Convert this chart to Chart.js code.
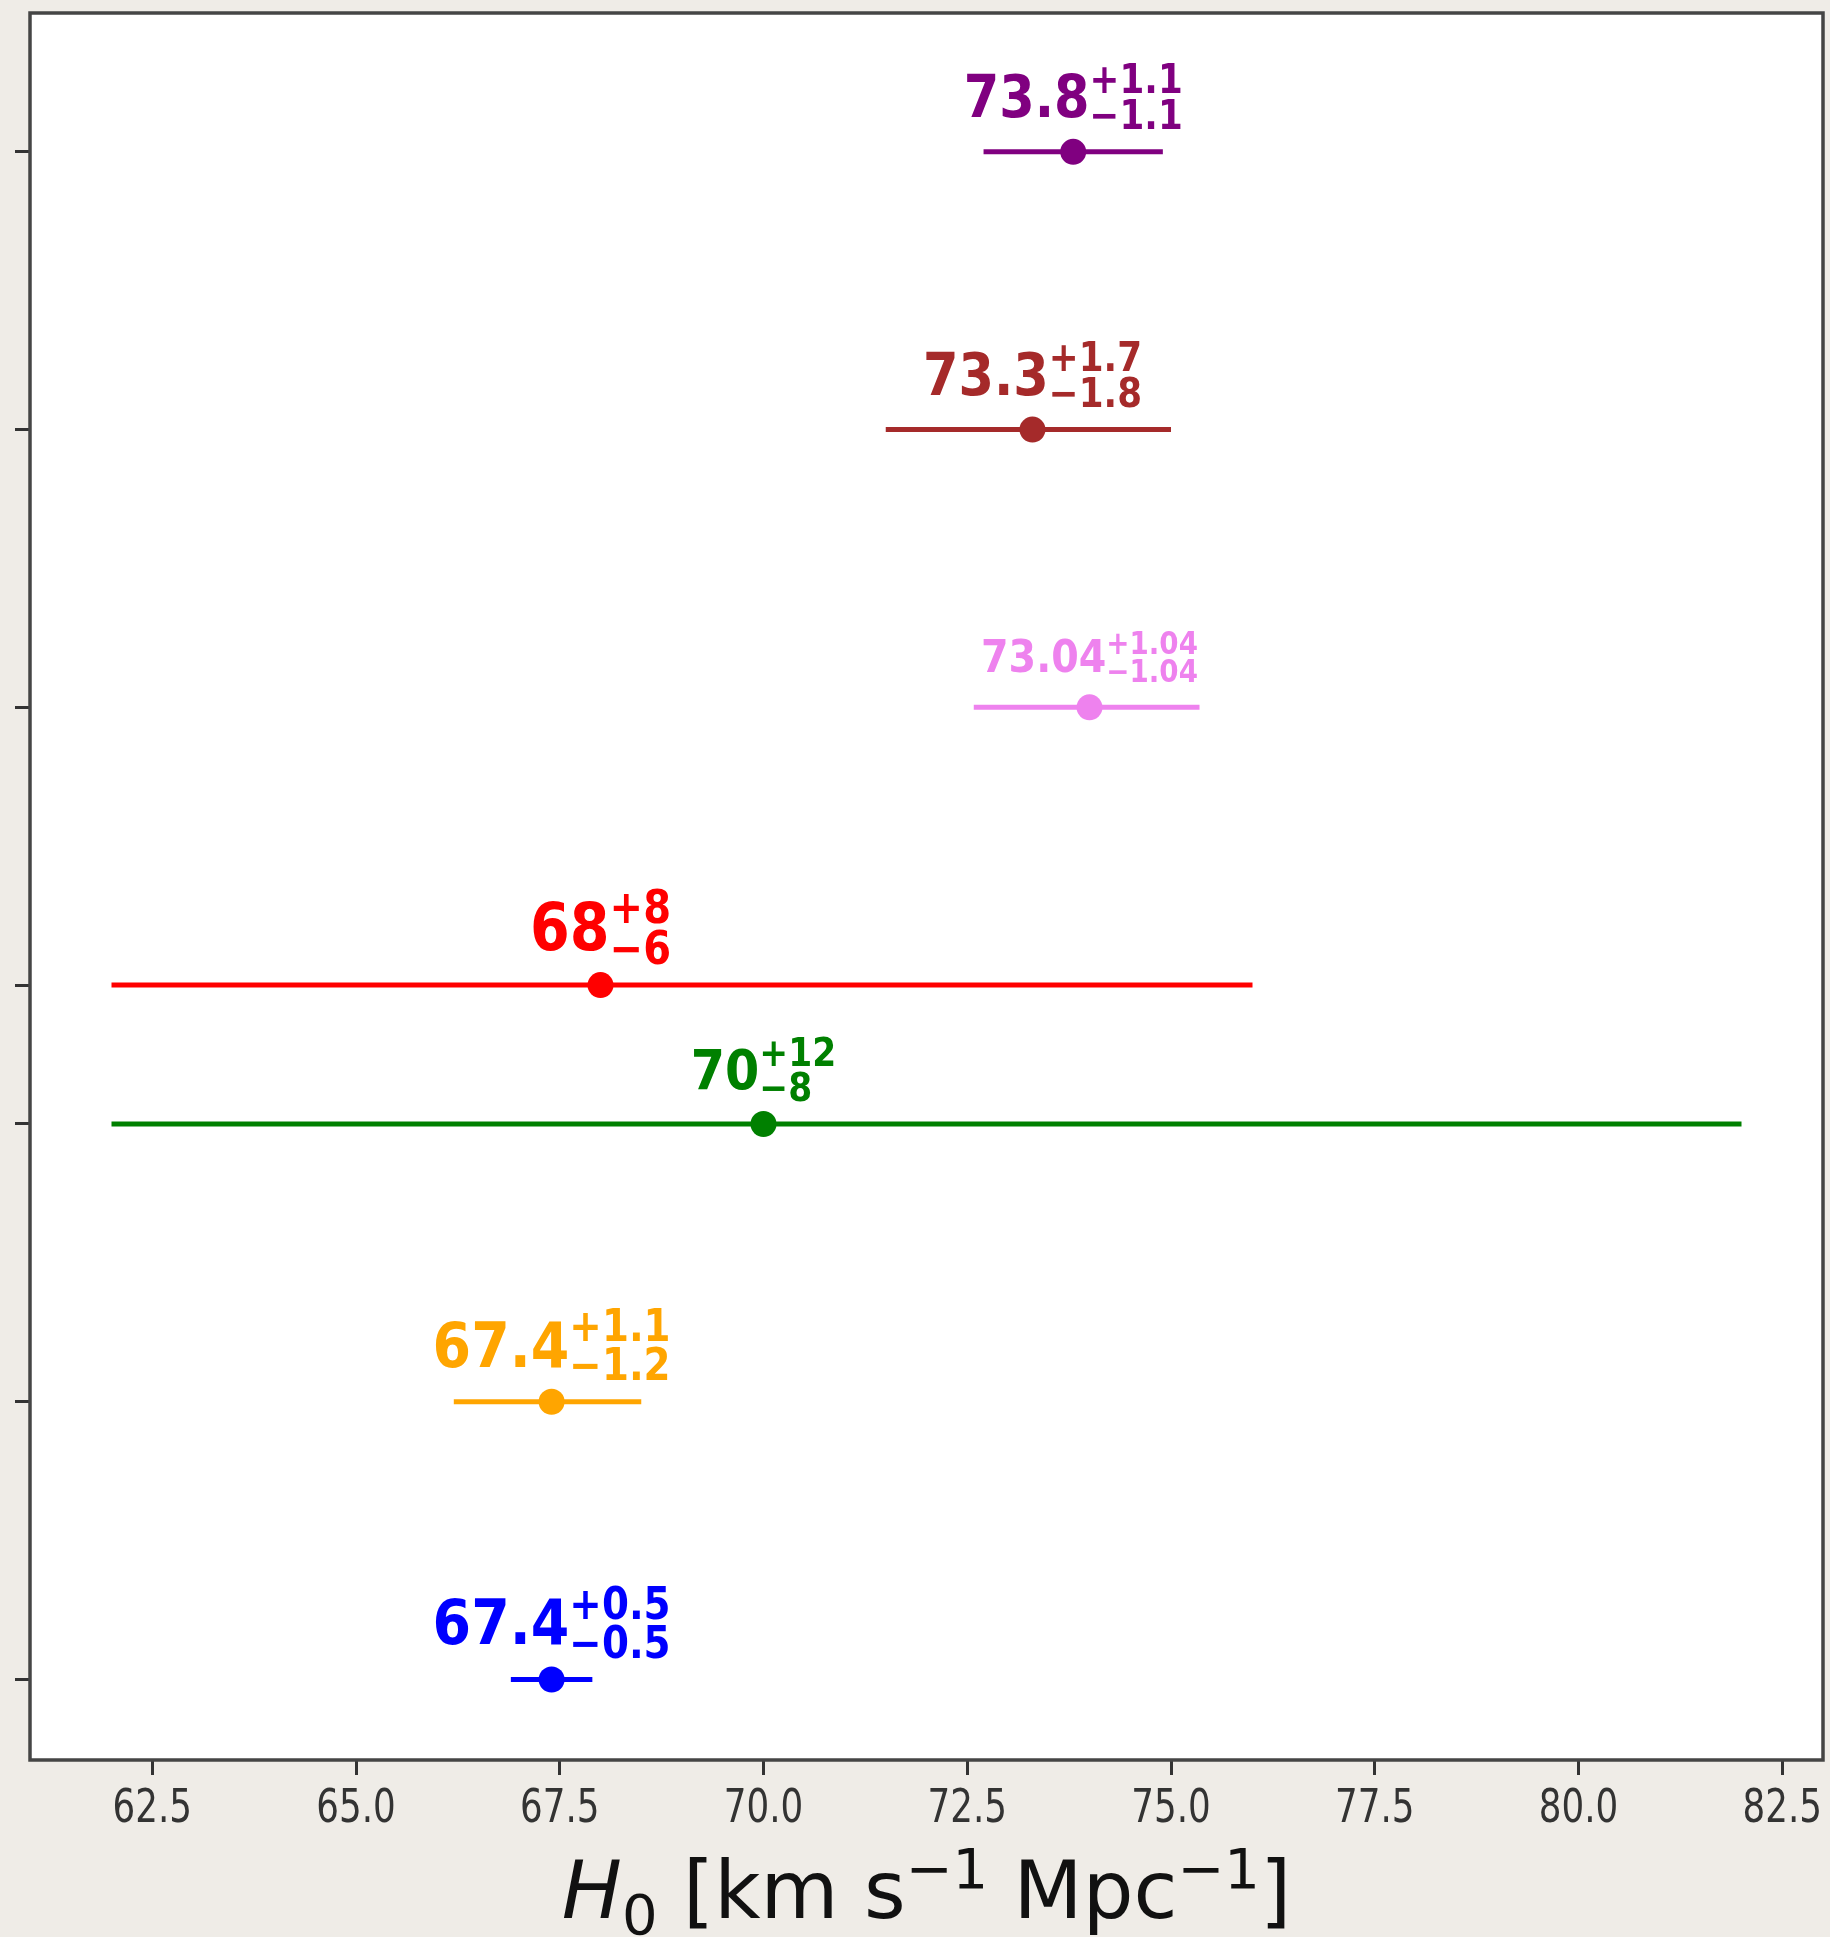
<!DOCTYPE html>
<html><head><meta charset="utf-8">
<script src="https://cdn.jsdelivr.net/npm/chart.js@4.4.1/dist/chart.umd.min.js"></script>
<style>
html,body{margin:0;padding:0;background:#efece7;overflow:hidden;}
#wrap{width:1830px;height:1937px;position:relative;}
</style>
</head><body>
<div id="wrap"><canvas id="c"></canvas></div>
<script>
// ---- data ----
const h0Values     = [67.4, 67.4, 70.0, 68.0, 74.0, 73.3, 73.8];
const errMinus     = [0.5, 1.2, 8, 6, 1.42, 1.8, 1.1];
const errPlus      = [0.5, 1.1, 12, 8, 1.35, 1.7, 1.1];
const rowPositions = [0, 1, 2, 2.5, 3.5, 4.5, 5.5];
const labelMain    = ['67.4', '67.4', '70', '68', '73.04', '73.3', '73.8'];
const labelSup     = ['+0.5', '+1.1', '+12', '+8', '+1.04', '+1.7', '+1.1'];
const labelSub     = ['\u22120.5', '\u22121.2', '\u22128', '\u22126', '\u22121.04', '\u22121.8', '\u22121.1'];
const xTickValues  = [62.5, 65, 67.5, 70, 72.5, 75, 77.5, 80, 82.5];
const xTickLabels  = ['62.5', '65.0', '67.5', '70.0', '72.5', '75.0', '77.5', '80.0', '82.5'];

// ---- styles ----
const seriesColors = ['#0000ff', '#ffa500', '#008000', '#ff0000', '#ee82ee', '#a52a2a', '#800080'];
const labelFontPx  = [63, 63, 56, 65, 45, 58, 58];

const datasets = [];
datasets.push({
  type: 'scatter',
  order: 0,
  data: h0Values.map((v, i) => ({x: v, y: rowPositions[i]})),
  pointRadius: 13,
  pointHoverRadius: 13,
  pointBackgroundColor: seriesColors,
  pointBorderWidth: 0,
  borderWidth: 0
});
h0Values.forEach((v, i) => {
  datasets.push({
    type: 'line',
    order: 1,
    data: [{x: v - errMinus[i], y: rowPositions[i]}, {x: v + errPlus[i], y: rowPositions[i]}],
    borderColor: seriesColors[i],
    borderWidth: 5,
    borderCapStyle: 'butt',
    pointRadius: 0,
    pointHoverRadius: 0,
    fill: false
  });
});

const decor = {
  id: 'decor',
  beforeDraw(chart) {
    const {ctx, chartArea: a} = chart;
    ctx.save();
    ctx.fillStyle = '#ffffff';
    ctx.fillRect(a.left, a.top, a.right - a.left, a.bottom - a.top);
    ctx.restore();
  },
  afterDraw(chart) {
    const {ctx, chartArea: a, scales: {x, y}} = chart;
    // frame
    ctx.save();
    ctx.strokeStyle = '#454545';
    ctx.lineWidth = 3.5;
    ctx.strokeRect(a.left, a.top, a.right - a.left, a.bottom - a.top);
    ctx.restore();

    // x tick labels (condensed)
    ctx.save();
    ctx.fillStyle = '#333333';
    ctx.font = '47px "DejaVu Sans"';
    ctx.textAlign = 'center';
    ctx.textBaseline = 'alphabetic';
    x.ticks.forEach(t => {
      const px = x.getPixelForValue(t.value);
      ctx.save();
      ctx.translate(px, a.bottom + 62);
      ctx.scale(0.76, 1);
      ctx.fillText(t.label, 0, 0);
      ctx.restore();
    });
    ctx.restore();

    // value annotations
    const cx = 0.88;
    h0Values.forEach((v, i) => {
      const px = x.getPixelForValue(v);
      const py = y.getPixelForValue(rowPositions[i]);
      const f = labelFontPx[i];
      const fs = f * 0.7;
      ctx.save();
      ctx.fillStyle = seriesColors[i];
      ctx.textAlign = 'left';
      ctx.textBaseline = 'alphabetic';
      ctx.font = 'bold ' + f + 'px "DejaVu Sans"';
      const wMain = ctx.measureText(labelMain[i]).width;
      ctx.font = 'bold ' + fs + 'px "DejaVu Sans"';
      const wSup = ctx.measureText(labelSup[i]).width;
      const wSub = ctx.measureText(labelSub[i]).width;
      const total = (wMain + Math.max(wSup, wSub));
      const by = py - 35;
      ctx.translate(px, by);
      ctx.scale(cx, 1);
      const sx = -total / 2;
      ctx.font = 'bold ' + f + 'px "DejaVu Sans"';
      ctx.fillText(labelMain[i], sx, 0);
      ctx.font = 'bold ' + fs + 'px "DejaVu Sans"';
      ctx.fillText(labelSup[i], sx + wMain, -0.41 * f);
      ctx.fillText(labelSub[i], sx + wMain, 0.21 * f);
      ctx.restore();
    });

    // axis title: H_0 [km s^-1 Mpc^-1]
    const pieces = [
      {t: 'H', f: 'italic 80px "DejaVu Sans"', dy: 0},
      {t: '0', f: '56px "DejaVu Sans"', dy: 16},
      {t: ' [km s', f: '80px "DejaVu Sans"', dy: 0},
      {t: '\u22121', f: '56px "DejaVu Sans"', dy: -30},
      {t: ' Mpc', f: '80px "DejaVu Sans"', dy: 0},
      {t: '\u22121', f: '56px "DejaVu Sans"', dy: -30},
      {t: ']', f: '80px "DejaVu Sans"', dy: 0}
    ];
    ctx.save();
    ctx.fillStyle = '#111111';
    ctx.textAlign = 'left';
    ctx.textBaseline = 'alphabetic';
    let tw = 0;
    pieces.forEach(p => { ctx.font = p.f; p.w = ctx.measureText(p.t).width; tw += p.w; });
    let tx = (a.left + a.right) / 2 - tw / 2;
    const ty = 1918;
    pieces.forEach(p => { ctx.font = p.f; ctx.fillText(p.t, tx, ty + p.dy); tx += p.w; });
    ctx.restore();
  }
};

new Chart(document.getElementById('c'), {
  data: {datasets},
  options: {
    responsive: true,
    maintainAspectRatio: false,
    animation: false,
    events: [],
    layout: {autoPadding: false, padding: {top: 13, right: 7, left: 0, bottom: 0}},
    plugins: {legend: {display: false}, tooltip: {enabled: false}},
    scales: {
      x: {
        type: 'linear',
        min: 61,
        max: 83,
        afterBuildTicks: s => { s.ticks = xTickValues.map(v => ({value: v})); },
        afterFit: s => { s.height = 177; },
        ticks: {display: false, callback: (v, i) => xTickLabels[i]},
        grid: {display: true, drawOnChartArea: false, drawTicks: true, tickLength: 15, tickColor: '#333333', tickWidth: 3},
        border: {display: false}
      },
      y: {
        type: 'linear',
        min: -0.29,
        max: 6.0,
        afterBuildTicks: s => { s.ticks = rowPositions.map(v => ({value: v})); },
        afterFit: s => { s.width = 30; },
        ticks: {display: false},
        grid: {display: true, drawOnChartArea: false, drawTicks: true, tickLength: 15, tickColor: '#333333', tickWidth: 3},
        border: {display: false}
      }
    }
  },
  plugins: [decor]
});
</script>
</body></html>
